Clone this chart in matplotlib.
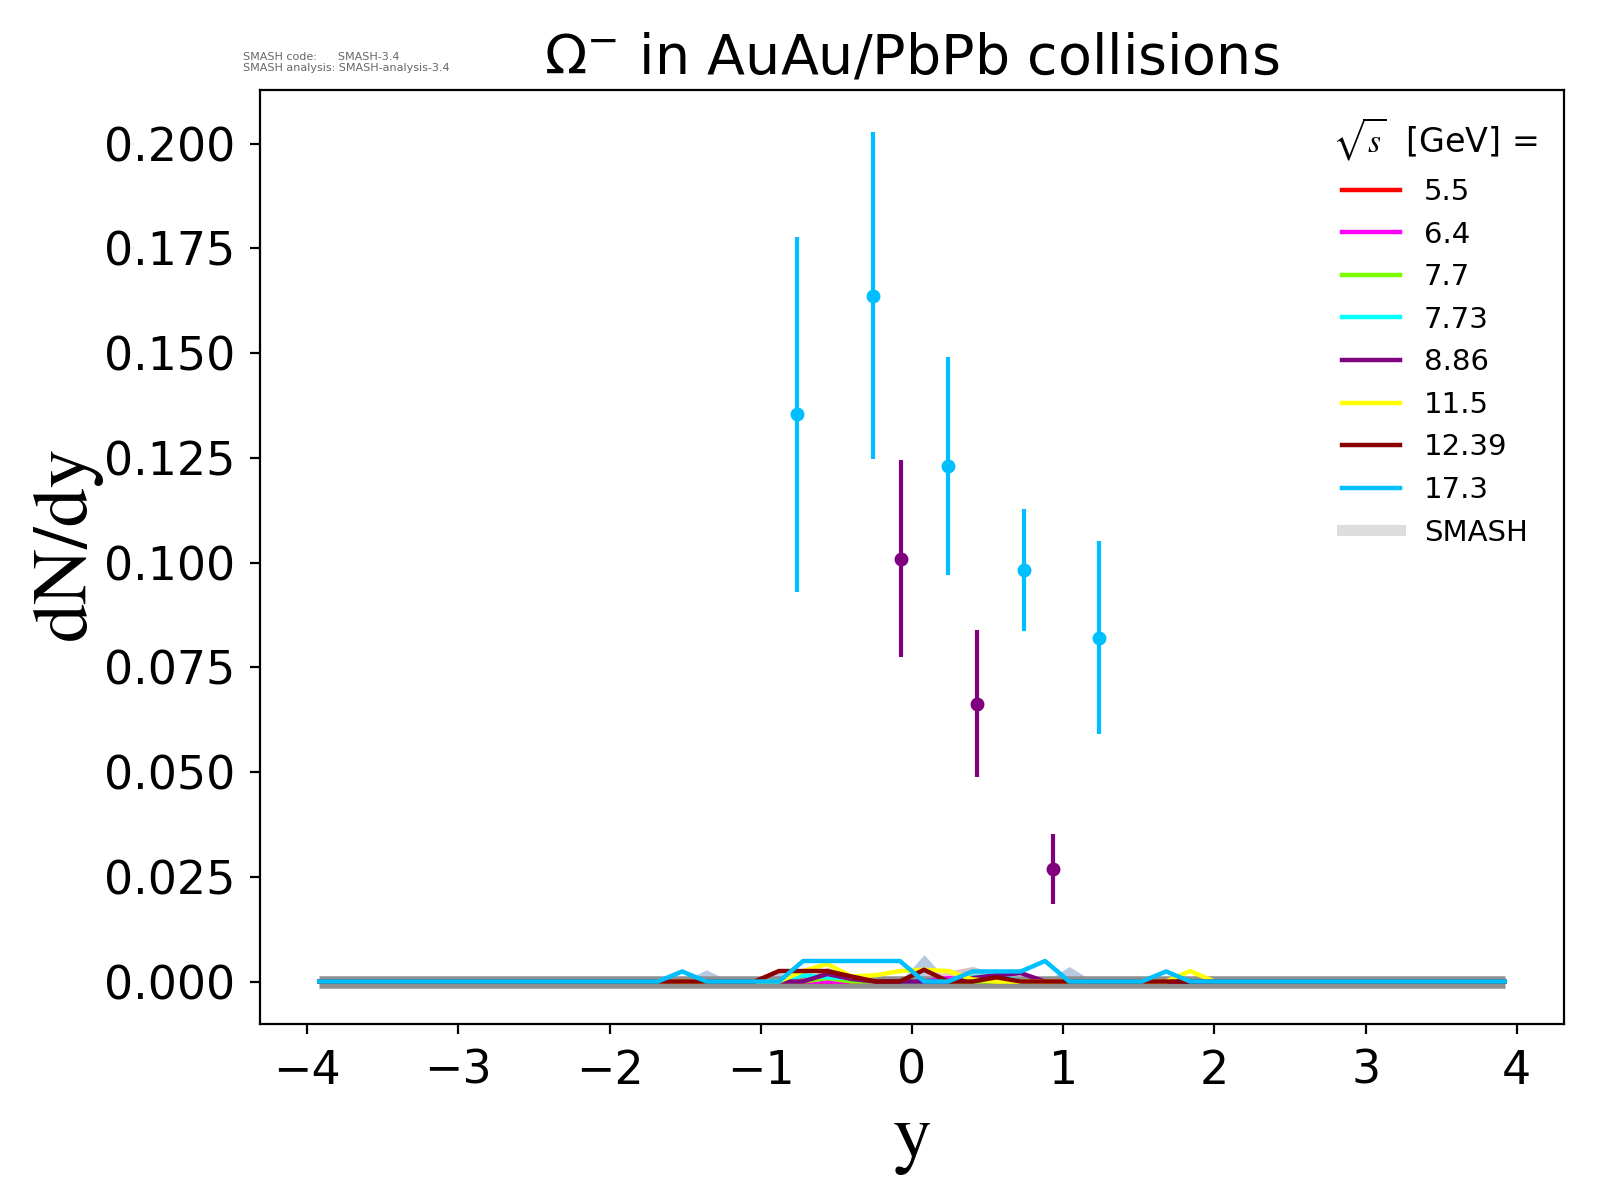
import numpy as np
import matplotlib
matplotlib.use("Agg")
import matplotlib.pyplot as plt
from matplotlib.lines import Line2D
from matplotlib.font_manager import FontProperties

# rapidity bins of the SMASH histograms (50 bins from -4 to 4)
y_bins = np.linspace(-3.92, 3.92, 50)

energies = ["5.5", "6.4", "7.7", "7.73", "8.86", "11.5", "12.39", "17.3"]
colors = ["red", "magenta", "lawngreen", "cyan", "purple", "yellow", "darkred", "deepskyblue"]

# SMASH dN/dy per energy (mostly empty bins)
smash_5_5 = [0.0] * 27 + [0.0006] + [0.0] * 22
smash_6_4 = [0.0] * 26 + [0.0008] + [0.0] * 23
smash_7_7 = [0.0] * 21 + [0.0008] + [0.0] * 28
smash_7_73 = [0.0] * 20 + [0.0015, 0.001, 0.0008] + [0.0] * 4 + [0.001, 0.0015] + [0.0] * 21
smash_8_86 = [0.0] * 21 + [0.0018, 0.0006] + [0.0] * 4 + [0.0008, 0.0015, 0.002] + [0.0] * 20
smash_11_5 = ([0.0] * 20 + [0.0025, 0.0042, 0.0012, 0.0015, 0.0025, 0.0028, 0.0025, 0.0005]
              + [0.0] * 8 + [0.0025] + [0.0] * 13)
smash_12_39 = [0.0] * 19 + [0.0025, 0.0025, 0.0025, 0.0012, 0.0, 0.0, 0.0028, 0.0, 0.0, 0.001] + [0.0] * 21
smash_17_3 = ([0.0] * 15 + [0.0024] + [0.0] * 4 + [0.0049] * 5 + [0.0, 0.0]
              + [0.0024, 0.0024, 0.0024, 0.0049] + [0.0] * 4 + [0.0024] + [0.0] * 14)
smash_all = [smash_5_5, smash_6_4, smash_7_7, smash_7_73, smash_8_86, smash_11_5, smash_12_39, smash_17_3]

# upper edges of the faint SMASH uncertainty bands
band_blue = [0.0] * 16 + [0.0028, 0.0, 0.0, 0.0022] + [0.0] * 5 + [0.0064] + [0.0] * 5 + [0.0036] + [0.0] * 18
band_brown = [0.0] * 21 + [0.0034, 0.0015] + [0.0] * 3 + [0.0025, 0.0036, 0.0020] + [0.0] * 21
band_pink = [0.0] * 25 + [0.0015, 0.0032, 0.0015] + [0.0] * 22

# experimental data
na49_y = [-0.76, -0.26, 0.24, 0.74, 1.24]
na49_dndy = [0.1354, 0.1637, 0.1230, 0.0982, 0.0821]
na49_err = [0.0424, 0.039, 0.026, 0.0146, 0.023]

na57_y = [-0.07, 0.43, 0.93]
na57_dndy = [0.1009, 0.0663, 0.0268]
na57_err = [0.0235, 0.0175, 0.0083]

fig, ax = plt.subplots(figsize=(8, 6), dpi=200)
fig.subplots_adjust(left=0.1625, right=0.9775, bottom=0.1467, top=0.925)

# faint bands
ax.fill_between(y_bins, 0, band_blue, color="lightsteelblue", alpha=0.9, lw=0, zorder=1)
ax.fill_between(y_bins, 0, band_brown, color="rosybrown", alpha=0.55, lw=0, zorder=1)
ax.fill_between(y_bins, 0, band_pink, color="pink", alpha=0.6, lw=0, zorder=1)

ax.hlines(0, y_bins[0], y_bins[-1], color="#8f8f8f", lw=4.5, zorder=1.5)

handles = []
for vals, c, e in zip(smash_all, colors, energies):
    h, = ax.plot(y_bins, vals, color=c, lw=1.6, label=e, zorder=2)
    handles.append(h)

ax.errorbar(na57_y, na57_dndy, yerr=na57_err, fmt="o", color="purple", ms=4, elinewidth=1.5, zorder=3)
ax.errorbar(na49_y, na49_dndy, yerr=na49_err, fmt="o", color="deepskyblue", ms=4, elinewidth=1.5, zorder=3)

handles.append(Line2D([], [], color="#dddddd", lw=4, solid_capstyle="projecting", label="SMASH"))
leg = ax.legend(handles=handles, loc="upper right", frameon=False, fontsize=10.5, labelspacing=0.5,
                handlelength=2.0, title=r"$\sqrt{s}$  [GeV] =",
                title_fontproperties=FontProperties(size=12, math_fontfamily="stix"))

ax.set_title(r"$\Omega^{-}$ in AuAu/PbPb collisions", fontsize=20)
ax.set_xlabel("y", fontsize=28, family="STIXGeneral")
ax.set_ylabel("dN/dy", fontsize=28, family="STIXGeneral")
ax.yaxis.set_label_coords(-0.121, 0.515)
ax.tick_params(labelsize=16.5, pad=5.5)

fig.text(0.152, 0.939, "SMASH code:      SMASH-3.4\nSMASH analysis: SMASH-analysis-3.4",
         fontsize=4.0, color="#666666", va="bottom")

fig.savefig("out.png")
